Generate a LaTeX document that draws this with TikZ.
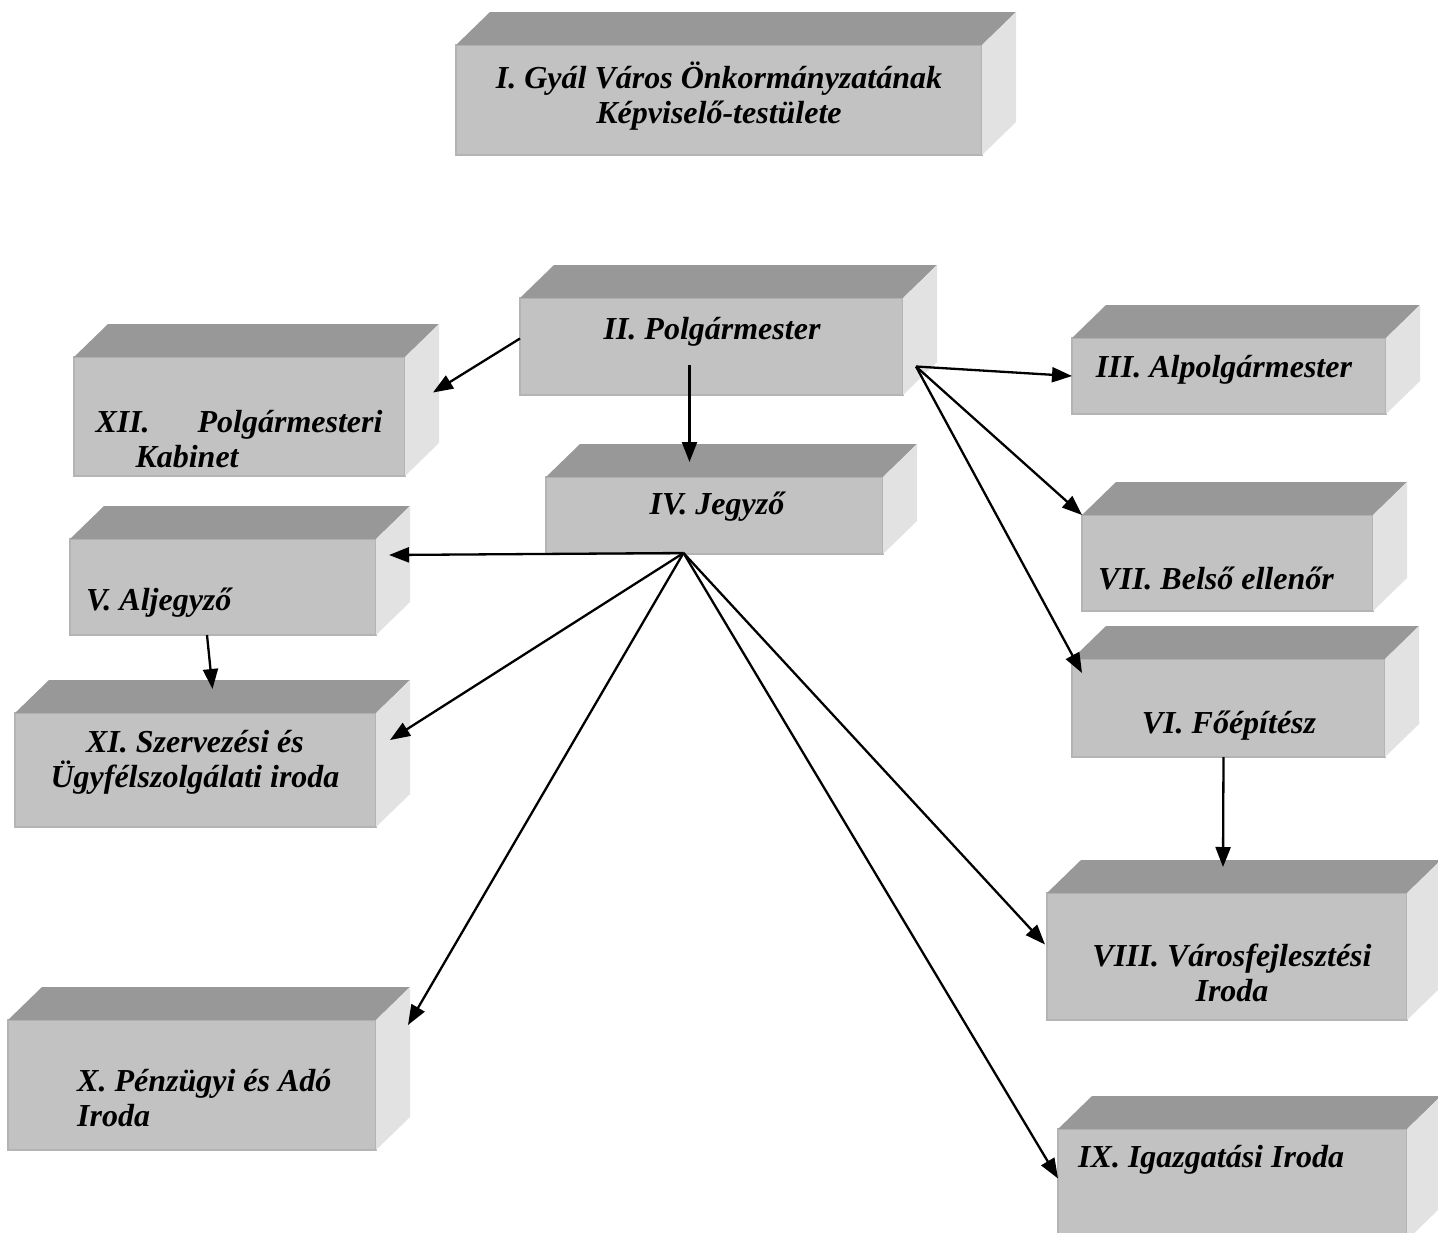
\documentclass[tikz,border=0pt]{standalone}
\usepackage{fontspec}
\setmainfont{Liberation Serif}
\usetikzlibrary{arrows.meta, fit, calc}
\definecolor{cubefront}{RGB}{194,194,194}
\definecolor{cubetop}{RGB}{152,152,152}
\definecolor{cubeside}{RGB}{226,226,226}
\definecolor{cubeedge}{RGB}{180,180,180}
\newcommand*{\cubefaces}[1]{%
  \fill[cubetop] (#1.north west) -- ++(34pt,33pt) -- ([shift={(34pt,33pt)}]#1.north east) -- (#1.north east) -- cycle;
  \fill[cubeside] (#1.north east) -- ++(34pt,33pt) -- ([shift={(34pt,33pt)}]#1.south east) -- (#1.south east) -- cycle;}

\begin{document}
\begin{tikzpicture}[x=1pt,y=-1pt,
      block/.style={fill=cubefront,draw=cubeedge,line width=1.5pt,inner sep=0pt,outer sep=0pt},
      caption/.style={font=\fontsize{32}{35}\selectfont\bfseries\itshape,align=center,inner sep=0pt},
      link/.style={-{Triangle[length=20pt,width=15pt]},line width=2.3pt}]
      \useasboundingbox (0,0) rectangle (1438,1232);
      \fill[white] (0,0) rectangle (1438,1232);
      % front faces
      \node[block, fit={(456,45) (982,155)}]     (testulet) {};
      \node[block, fit={(520,298) (903,395)}]    (polgarm) {};
      \node[block, fit={(74,357) (405,476)}]     (kabinet) {};
      \node[block, fit={(546,477) (883,554)}]    (jegyzo) {};
      \node[block, fit={(1072,338) (1386,414)}]  (alpolg) {};
      \node[block, fit={(1082,515) (1373,611)}]  (ellenor) {};
      \node[block, fit={(70,539) (376,635)}]     (aljegyzo) {};
      \node[block, fit={(1072,659) (1385,757)}]  (foepitesz) {};
      \node[block, fit={(15,713) (376,827)}]     (szervezesi) {};
      \node[block, fit={(1047,893) (1407,1020)}] (varosfejl) {};
      \node[block, fit={(8,1020) (376,1150)}]    (penzugyi) {};
      \node[block, fit={(1058,1129) (1407,1240)}] (igazgatasi) {};
      \foreach \b in {testulet,polgarm,kabinet,jegyzo,alpolg,ellenor,aljegyzo,
                      foepitesz,szervezesi,varosfejl,penzugyi,igazgatasi}
        \cubefaces{\b};
      % captions
      \node[caption] (testulet lbl) at (719,96) {I. Gyál Város Önkormányzatának\\Képviselő-testülete};
      \node[caption] (polgarm lbl) at (712,332) {II. Polgármester};
      \node[caption, align=left] (kabinet lbl) at (239,439) {\makebox[287pt]{XII.\hfill Polgármesteri}\\\hspace*{40pt}Kabinet};
      \node[caption] (jegyzo lbl) at (717,507) {IV. Jegyző};
      \node[caption] (alpolg lbl) at (1224,370) {III. Alpolgármester};
      \node[caption] (ellenor lbl) at (1216,578) {VII. Belső ellenőr};
      \node[caption, anchor=west] (aljegyzo lbl) at (86,603) {V. Aljegyző};
      \node[caption] (foepitesz lbl) at (1229,726) {VI. Főépítész};
      \node[caption] (szervezesi lbl) at (195,762) {XI. Szervezési és\\Ügyfélszolgálati iroda};
      \node[caption] (varosfejl lbl) at (1232,973) {VIII. Városfejlesztési\\Iroda};
      \node[caption, align=left, anchor=west] (penzugyi lbl) at (77,1098) {X. Pénzügyi és Adó\\Iroda};
      \node[caption, anchor=west] (igazgatasi lbl) at (1078,1160) {IX. Igazgatási Iroda};
      % arrows
      \coordinate (polgarm hub) at ($(polgarm.east)+(13,20)$);
      \coordinate (jegyzo hub) at ($(jegyzo.south)+(-31,-1)$);
      \path[link]
      ($(polgarm.west)+(0,-8)$) edge ($(kabinet.east)+(28,-24)$)
      ($(polgarm.south)+(-22,-30)$) edge ($(jegyzo.north)+(-25,-15)$)
      (polgarm hub) edge (alpolg.west)
      (polgarm hub) edge (ellenor.north west)
      (polgarm hub) edge ($(foepitesz.north west)+(10,14)$)
      (jegyzo hub) edge ($(aljegyzo.north east)+(13,16)$)
      (jegyzo hub) edge ($(szervezesi.east)+(14,-30)$)
      (jegyzo hub) edge ($(penzugyi.north east)+(32,5)$)
      (jegyzo hub) edge ($(varosfejl.west)+(-2,-12)$)
      (jegyzo hub) edge ($(igazgatasi.west)+(0,-6)$)
      ($(aljegyzo.south)+(-16,0)$) edge ($(szervezesi.north)+(17,-24)$)
      ($(foepitesz.south)+(-5,0)$) edge ($(varosfejl.north)+(-4,-26)$);
\end{tikzpicture}
\end{document}
